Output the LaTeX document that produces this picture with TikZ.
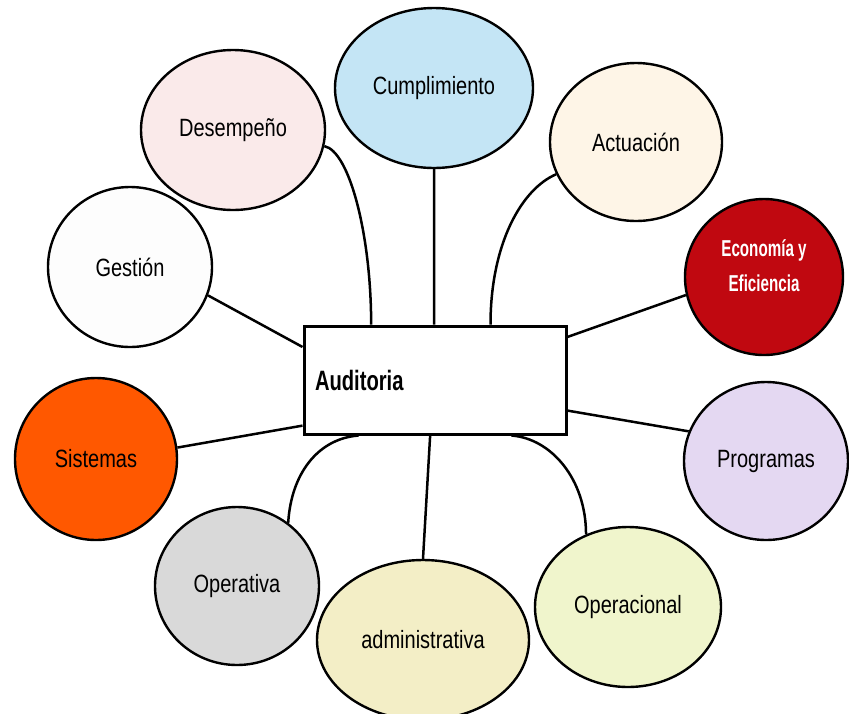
\documentclass[tikz,border=0pt]{standalone}
\usepackage{fontspec}
\setmainfont{Liberation Sans}[FakeStretch=0.8]
\newfontfamily\narrowfont{Liberation Sans}[FakeStretch=0.66]
\newfontfamily\audfont{Liberation Sans}[FakeStretch=0.72]
\usetikzlibrary{shapes.geometric}
\definecolor{cumpcol}{RGB}{196,229,245}
\definecolor{descol}{RGB}{250,234,234}
\definecolor{actcol}{RGB}{254,245,231}
\definecolor{gestcol}{RGB}{253,253,253}
\definecolor{econcol}{RGB}{192,8,16}
\definecolor{sistcol}{RGB}{255,88,0}
\definecolor{progcol}{RGB}{228,216,242}
\definecolor{opercol}{RGB}{217,217,217}
\definecolor{admcol}{RGB}{243,238,198}
\definecolor{opclcol}{RGB}{240,245,204}
\begin{document}
\begin{tikzpicture}[x=1pt,y=-1pt]
        \tikzstyle{bubble}=[draw,shape=ellipse,line width=2.4pt,inner sep=0pt,font=\fontsize{25}{29}\selectfont];
        \tikzstyle{link}=[line width=2.5pt];
        \useasboundingbox (0,0) rectangle (849,713);
        %\node (name) [bubble,fill=...,minimum width=2rx,minimum height=2ry] at (x,y) {text};
        \node (cump) [bubble,fill=cumpcol,minimum width=198pt,minimum height=160pt] at (434,88) {Cumplimiento};
        \node (des) [bubble,fill=descol,minimum width=184pt,minimum height=160pt] at (233,130) {Desempeño};
        \node (act) [bubble,fill=actcol,minimum width=172pt,minimum height=158pt] at (636,142) {Actuación};
        \node (gest) [bubble,fill=gestcol,minimum width=164pt,minimum height=160pt] at (130,267) {Gestión};
        \node (econ) [bubble,fill=econcol,minimum width=158pt,minimum height=156pt,align=center,text=white,text depth=22pt,
              font=\narrowfont\bfseries\fontsize{23}{35}\selectfont] at (764,277)
              {Economía y\\Eficiencia};
        \node (sist) [bubble,fill=sistcol,minimum width=162pt,minimum height=162pt] at (96,459) {Sistemas};
        \node (prog) [bubble,fill=progcol,minimum width=164pt,minimum height=158pt] at (766,461) {Programas};
        \node (oper) [bubble,fill=opercol,minimum width=164pt,minimum height=158pt] at (237,586) {Operativa};
        \node (adm) [bubble,fill=admcol,minimum width=212pt,minimum height=160pt] at (423,640) {administrativa};
        \node (opcl) [bubble,fill=opclcol,minimum width=186pt,minimum height=160pt] at (628,607) {Operacional};
        \node (aud) [draw,fill=white,line width=3pt,minimum width=262pt,minimum height=108pt,text width=240pt,align=left,
              font=\audfont\bfseries\fontsize{28}{34}\selectfont] at (435,380) {Auditoria};
        \draw[link] (gest.-20) -- (aud.166);
        \draw[link] (des.-10) .. controls +(25,5) and +(0,-90) .. (aud.139);
        \draw[link] (cump.-90) -- (aud.91);
        \draw[link] (act.-158) .. controls +(-35,15) and +(0,-80) .. (aud.45);
        \draw[link] (econ.-167) -- (aud.18);
        \draw[link] (sist.8) -- (aud.-161);
        \draw[link] (prog.159) -- (aud.-13);
        \draw[link] (oper.51) .. controls +(3,-50) and +(-40,3) .. (aud.-144);
        \draw[link] (adm.90) -- (aud.-95);
        \draw[link] (opcl.120) .. controls +(0,-55) and +(40,3) .. (aud.-36);
\end{tikzpicture}
\end{document}
